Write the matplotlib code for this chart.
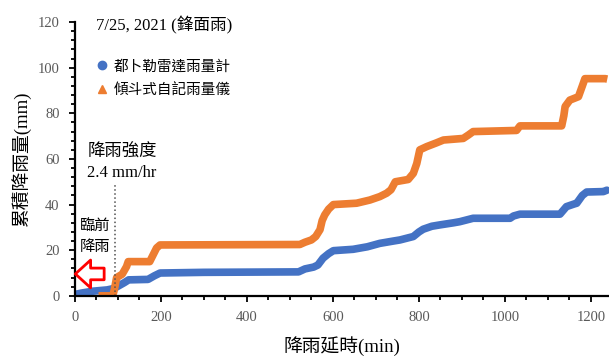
import matplotlib
matplotlib.use("Agg")
import matplotlib.pyplot as plt
from matplotlib.lines import Line2D
from matplotlib.ticker import MultipleLocator

plt.rcParams['font.family'] = ['Liberation Serif', 'Noto Sans CJK TC']

# rain duration (min) vs cumulative rainfall (mm)
radar_t = [0, 5, 15, 40, 75, 90, 100, 115, 125, 170, 185, 198, 300, 520, 535, 555, 565,
           577, 590, 601, 647, 680, 709, 740, 756, 787, 800, 810, 830, 849, 880, 895, 926,
           1012, 1020, 1035, 1128, 1143, 1160, 1167, 1180, 1190, 1229, 1237]
radar_mm = [0, 0.8, 1.2, 2, 2.6, 3.2, 4.2, 5.8, 7, 7.2, 8.8, 10, 10.3, 10.5, 11.8, 12.6, 13.5,
            16.5, 18.5, 19.8, 20.4, 21.5, 23, 24, 24.5, 26, 28, 29.2, 30.5, 31.1, 32, 32.5, 34,
            34, 35, 35.8, 35.8, 39.1, 40.2, 40.6, 44, 45.5, 45.7, 46.3]

gauge_t = [55, 88, 92, 97, 110, 120, 124, 174, 182, 190, 198, 523, 535, 550, 560, 570, 575,
           581, 590, 601, 655, 686, 709, 725, 735, 745, 775, 787, 795, 802, 818, 840, 857,
           903, 915, 926, 1027, 1035, 1132, 1137, 1140, 1151, 1171, 1180, 1186, 1233, 1238]
gauge_mm = [0, 0, 3, 8, 9.5, 12.8, 15, 15, 18, 21, 22.3, 22.5, 23.5, 24.5, 26, 29, 33,
            35.5, 38, 40, 40.6, 42, 43.5, 45, 46.5, 50, 51, 53.7, 58, 64, 65.4, 67, 68.3,
            69, 70.5, 72, 72.5, 74.5, 74.5, 79, 83, 85.8, 87.3, 92, 95.2, 95.2, 95]

labels = ['都卜勒雷達雨量計', '傾斗式自記雨量儀']
blue = '#4472C4'
orange = '#ED7D31'

fig = plt.figure(figsize=(6.09, 3.56), dpi=100)
ax = fig.add_axes([0.123, 0.169, 0.877, 0.769])

ax.plot(radar_t, radar_mm, color=blue, lw=5.5, solid_capstyle='round', solid_joinstyle='round')
ax.plot(gauge_t, gauge_mm, color=orange, lw=5.5, solid_capstyle='butt', solid_joinstyle='round')

ax.set_xlim(0, 1242)
ax.set_ylim(0, 120)
ax.xaxis.set_major_locator(MultipleLocator(200))
ax.xaxis.set_minor_locator(MultipleLocator(50))
ax.yaxis.set_major_locator(MultipleLocator(20))
ax.yaxis.set_minor_locator(MultipleLocator(4))
ax.tick_params(which='both', direction='out', color='black', width=1.3)
ax.tick_params(which='major', length=4, labelsize=10.5, labelcolor='#595959', pad=7)
ax.tick_params(which='minor', length=3)
for s in ['top', 'right']:
    ax.spines[s].set_visible(False)
for s in ['left', 'bottom']:
    ax.spines[s].set_linewidth(1.6)

ax.set_xlabel('降雨延時(min)', fontsize=13.5, labelpad=9)
ax.set_ylabel('累積降雨量(mm)', fontsize=13.5, labelpad=5)

ax.text(0.04, 0.988, '7/25, 2021 (鋒面雨)', transform=ax.transAxes, fontsize=12, va='center')

handles = [Line2D([], [], ls='none', marker='o', color=blue, markersize=6),
           Line2D([], [], ls='none', marker='^', color=orange, markersize=6)]
ax.legend(handles, labels, loc='upper left', bbox_to_anchor=(0.02, 0.9), frameon=False,
          fontsize=10.5, handlelength=0.8, handletextpad=0.4, labelspacing=0.7, borderpad=0.2)

# rainfall intensity threshold
ax.vlines(93, 0, 48.5, colors='#505050', linestyles=':', lw=1.1)
ax.text(30, 62.6, '降雨強度', fontsize=12.5, va='center')
ax.text(28, 53.9, '2.4 mm/hr', fontsize=12, va='center')
ax.text(12, 30.7, '臨前', fontsize=11, va='center')
ax.text(12, 21.2, '降雨', fontsize=11, va='center')

ax.annotate('', xy=(1, 9.6), xytext=(68, 9.6),
            arrowprops=dict(arrowstyle='simple,head_length=0.55,head_width=1.0,tail_width=0.42',
                            fc='white', ec='red', lw=2, mutation_scale=20, shrinkA=0, shrinkB=0))

fig.savefig('out.png', dpi=100)
